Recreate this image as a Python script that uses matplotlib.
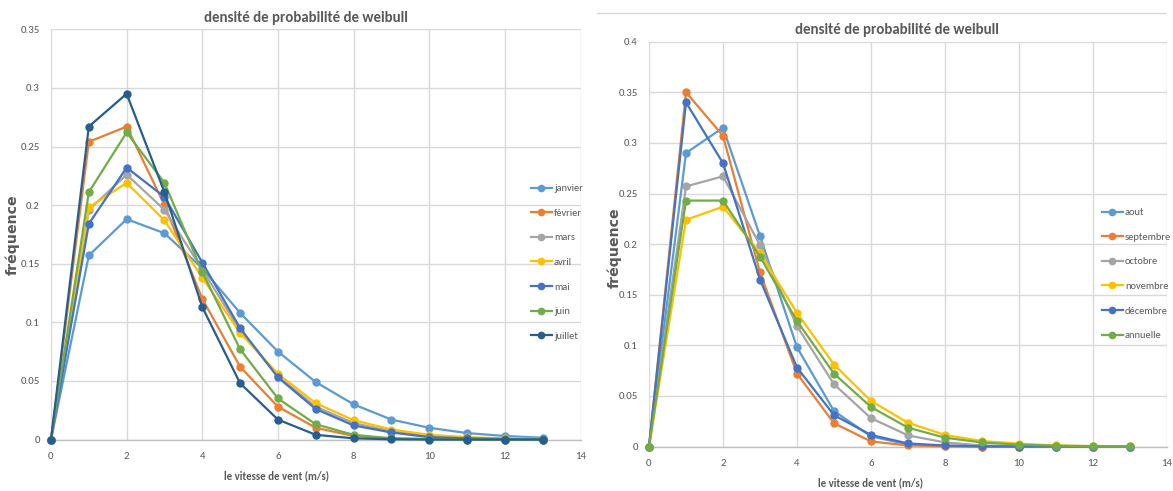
import matplotlib
matplotlib.use("Agg")
import matplotlib.pyplot as plt
from matplotlib.lines import Line2D

plt.rcParams['font.family'] = ['Carlito', 'IBM Plex Sans Condensed', 'DejaVu Sans']

# wind speed classes (m/s)
vitesse = list(range(14))

# Weibull density, months January - July
janvier = [0, 0.157, 0.188, 0.176, 0.146, 0.108, 0.075, 0.049, 0.030, 0.017, 0.010, 0.0055, 0.003, 0.0015]
fevrier = [0, 0.254, 0.267, 0.200, 0.120, 0.062, 0.028, 0.010, 0.003, 0.001, 0.0003, 0.0001, 0, 0]
mars    = [0, 0.196, 0.226, 0.196, 0.145, 0.093, 0.054, 0.028, 0.014, 0.007, 0.003, 0.001, 0.0005, 0.0002]
avril   = [0, 0.198, 0.219, 0.187, 0.138, 0.091, 0.056, 0.031, 0.0165, 0.0085, 0.004, 0.002, 0.001, 0.0004]
mai     = [0, 0.184, 0.232, 0.207, 0.151, 0.095, 0.053, 0.026, 0.012, 0.006, 0.002, 0.001, 0.0004, 0.0001]
juin    = [0, 0.211, 0.262, 0.219, 0.143, 0.077, 0.035, 0.013, 0.004, 0.001, 0.0003, 0, 0, 0]
juillet = [0, 0.267, 0.295, 0.211, 0.113, 0.048, 0.017, 0.004, 0.001, 0.0002, 0, 0, 0, 0]

# Weibull density, months August - December and whole year
aout      = [0, 0.290, 0.315, 0.208, 0.098, 0.035, 0.010, 0.002, 0.0004, 0, 0, 0, 0, 0]
septembre = [0, 0.350, 0.307, 0.172, 0.072, 0.023, 0.005, 0.001, 0.0002, 0, 0, 0, 0, 0]
octobre   = [0, 0.257, 0.267, 0.199, 0.119, 0.0615, 0.028, 0.011, 0.004, 0.001, 0.0003, 0, 0, 0]
novembre  = [0, 0.224, 0.237, 0.191, 0.132, 0.081, 0.045, 0.0235, 0.0114, 0.0054, 0.0028, 0.001, 0.0005, 0.0002]
decembre  = [0, 0.340, 0.280, 0.165, 0.078, 0.031, 0.0114, 0.003, 0.001, 0.0002, 0, 0, 0, 0]
annuelle  = [0, 0.243, 0.243, 0.1876, 0.124, 0.072, 0.039, 0.0186, 0.0087, 0.004, 0.0018, 0.0008, 0.0003, 0.0001]

labels_gauche = ['janvier', 'février', 'mars', 'avril', 'mai', 'juin', 'juillet']
series_gauche = [janvier, fevrier, mars, avril, mai, juin, juillet]
couleurs_gauche = ['#5B9BD5', '#ED7D31', '#A5A5A5', '#FFC000', '#4472C4', '#70AD47', '#255E91']

labels_droite = ['aout', 'septembre', 'octobre', 'novembre', 'décembre', 'annuelle']
series_droite = [aout, septembre, octobre, novembre, decembre, annuelle]
couleurs_droite = ['#5B9BD5', '#ED7D31', '#A5A5A5', '#FFC000', '#4472C4', '#70AD47']

titre = 'densité de probabilité de weibull'
xlabel = 'le vitesse de vent (m/s)'
ylabel = 'fréquence'

W, H = 1173, 491
fig = plt.figure(figsize=(W / 100, H / 100), dpi=100)
TXT = '#595959'
GRID = '#D9D9D9'
FS_TICK = 7.8
FS_LEG = 7.5
FS_TITLE = 10.7
FS_XLAB = 7.8
FS_YLAB = 10.2


def px_axes(x0, x1, ytop, ybot):
    return fig.add_axes([x0 / W, (H - ybot) / H, (x1 - x0) / W, (ybot - ytop) / H])


def fx(x):
    return x / W


def fy(y):
    return (H - y) / H


def style(ax, ymax, ystep):
    ax.set_xlim(0, 14)
    ax.set_ylim(0, ymax)
    ax.set_xticks(range(0, 15, 2))
    n = int(round(ymax / ystep))
    yt = [round(i * ystep, 2) for i in range(n + 1)]
    ax.set_yticks(yt)
    ax.set_yticklabels(['0' if v == 0 else ('%g' % v) for v in yt])
    for s in ['top', 'right', 'left']:
        ax.spines[s].set_visible(False)
    ax.spines['bottom'].set_color('#BFBFBF')
    ax.spines['bottom'].set_linewidth(1.0)
    ax.grid(True, color=GRID, linewidth=1.0)
    ax.set_axisbelow(True)
    ax.tick_params(length=0, labelsize=FS_TICK, labelcolor=TXT)
    ax.tick_params(axis='y', pad=8)
    ax.tick_params(axis='x', pad=9)


def draw(ax, series, labels, colors):
    for s, lab, c in zip(series, labels, colors):
        ax.plot(vitesse, s, color=c, lw=1.6, marker='o', ms=5, label=lab,
                clip_on=False, zorder=3)


def legend(labels, colors, x_left, y_first):
    handles = [Line2D([], [], color=c, lw=1.6, marker='o', ms=4.5) for c in colors]
    lg = fig.legend(handles, labels, loc='upper left',
                    bbox_to_anchor=(fx(x_left), fy(y_first - 4)),
                    bbox_transform=fig.transFigure, frameon=False,
                    fontsize=FS_LEG, handlelength=2.0, handletextpad=0.2,
                    labelspacing=1.47, borderpad=0, borderaxespad=0)
    for t in lg.get_texts():
        t.set_color(TXT)


# left chart
ax1 = px_axes(51, 580.5, 29.3, 439.5)
style(ax1, 0.35, 0.05)
draw(ax1, series_gauche, labels_gauche, couleurs_gauche)
fig.text(fx(306), fy(18), titre, ha='center', va='center', fontsize=FS_TITLE,
         fontweight='bold', color=TXT)
fig.text(fx(277), fy(476), xlabel, ha='center', va='center', fontsize=FS_XLAB,
         fontweight='bold', color=TXT)
fig.text(fx(13), fy(235), ylabel, ha='center', va='center', fontsize=FS_YLAB,
         fontweight='bold', color=TXT, rotation=90, family='DejaVu Sans')
legend(labels_gauche, couleurs_gauche, 531, 188)

# right chart
ax2 = px_axes(649, 1167, 41.7, 446.5)
style(ax2, 0.4, 0.05)
draw(ax2, series_droite, labels_droite, couleurs_droite)
fig.text(fx(897), fy(30), titre, ha='center', va='center', fontsize=FS_TITLE,
         fontweight='bold', color=TXT)
fig.text(fx(871), fy(483), xlabel, ha='center', va='center', fontsize=FS_XLAB,
         fontweight='bold', color=TXT)
fig.text(fx(614), fy(248), ylabel, ha='center', va='center', fontsize=FS_YLAB,
         fontweight='bold', color=TXT, rotation=90, family='DejaVu Sans')
legend(labels_droite, couleurs_droite, 1102, 212)

# frame line above the second chart
fig.add_artist(Line2D([fx(597), fx(1165)], [fy(13), fy(13)], color='#D9D9D9', lw=1.0))

fig.savefig('out.png', dpi=100)
